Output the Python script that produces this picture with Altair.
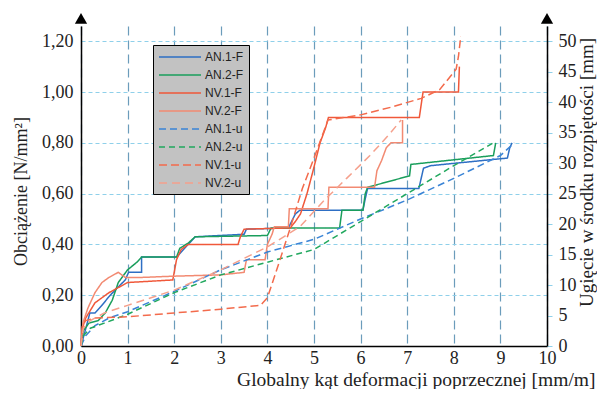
import altair as alt
import pandas as pd

# ---- series names, colours, styles ----
series_names = ["AN.1-F", "AN.2-F", "NV.1-F", "NV.2-F", "AN.1-u", "AN.2-u", "NV.1-u", "NV.2-u"]
series_colors = ["#2e6fc4", "#1a9e5c", "#f0583a", "#f28a72", "#3a84d6", "#21a85e", "#f36b4c", "#f5a08c"]
series_dash = [[1, 0], [1, 0], [1, 0], [1, 0], [7, 4], [6, 4], [8, 4], [8, 5]]
series_width = [1.5, 1.5, 1.8, 2.6, 1.6, 1.6, 2.2, 2.8]

# ---- data (x: mm/m, y: N/mm^2) ----
an1f_x = [0, 0.09, 0.19, 0.3, 0.45, 0.58, 0.73, 0.95, 1.02, 1.3, 1.3, 2.05, 2.2, 2.35, 2.45, 3.5, 3.55, 4.45, 4.6, 4.7, 6.05, 6.1, 6.15, 7.25, 7.35, 7.5, 9.15, 9.2, 9.25]
an1f_y = [0, 0.06, 0.13, 0.13, 0.16, 0.19, 0.22, 0.26, 0.29, 0.29, 0.35, 0.35, 0.38, 0.41, 0.43, 0.44, 0.46, 0.465, 0.52, 0.535, 0.535, 0.58, 0.62, 0.62, 0.70, 0.71, 0.74, 0.78, 0.80]

an2f_x = [0, 0.05, 0.17, 0.37, 0.52, 0.67, 0.8, 1.0, 1.2, 1.3, 2.05, 2.12, 2.3, 2.45, 4.0, 4.08, 5.55, 5.6, 6.05, 6.1, 6.15, 7.05, 7.08, 8.85, 8.9]
an2f_y = [0, 0.06, 0.09, 0.10, 0.13, 0.18, 0.25, 0.30, 0.33, 0.35, 0.35, 0.385, 0.405, 0.43, 0.435, 0.465, 0.465, 0.535, 0.535, 0.60, 0.625, 0.67, 0.715, 0.75, 0.80]

nv1f_x = [0, 0.03, 0.1, 0.3, 0.6, 0.9, 1.0, 1.97, 2.05, 2.15, 2.3, 3.37, 3.42, 3.5, 4.49, 4.6, 4.71, 4.85, 4.98, 5.13, 5.25, 5.31, 7.26, 7.34, 8.1, 8.12]
nv1f_y = [0, 0.07, 0.11, 0.17, 0.21, 0.24, 0.25, 0.26, 0.34, 0.38, 0.40, 0.40, 0.43, 0.46, 0.465, 0.49, 0.52, 0.60, 0.69, 0.80, 0.86, 0.90, 0.90, 1.0, 1.0, 1.1]

nv2f_x = [0, 0.04, 0.15, 0.3, 0.45, 0.6, 0.8, 0.95, 1.3, 2.0, 3.0, 3.5, 3.55, 3.95, 4.0, 4.1, 4.15, 4.45, 4.47, 5.3, 5.32, 6.3, 6.35, 6.45, 6.55, 6.65, 6.9, 6.9]
nv2f_y = [0, 0.09, 0.15, 0.21, 0.25, 0.27, 0.29, 0.27, 0.27, 0.275, 0.28, 0.29, 0.34, 0.34, 0.40, 0.44, 0.47, 0.47, 0.54, 0.54, 0.625, 0.625, 0.69, 0.73, 0.78, 0.80, 0.80, 0.89]

an1u_x = [0, 0.1, 0.3, 0.6, 1, 2, 3, 4, 5, 6, 7, 8, 9, 9.3]
an1u_y = [0, 0.04, 0.08, 0.11, 0.135, 0.215, 0.30, 0.37, 0.42, 0.50, 0.575, 0.66, 0.75, 0.80]

an2u_x = [0, 0.05, 0.2, 0.5, 1, 2, 3, 4, 5, 6, 7, 8, 8.85]
an2u_y = [0, 0.04, 0.07, 0.09, 0.125, 0.21, 0.28, 0.33, 0.38, 0.49, 0.60, 0.71, 0.80]

nv1u_x = [0, 0.03, 0.1, 0.3, 1.0, 2.0, 3.0, 3.85, 4.0, 4.2, 4.5, 4.75, 5.0, 5.3, 6.0, 6.65, 7.3, 7.7, 8.05, 8.1, 8.15]
nv1u_y = [0, 0.08, 0.10, 0.11, 0.115, 0.13, 0.145, 0.16, 0.19, 0.30, 0.47, 0.62, 0.74, 0.89, 0.91, 0.94, 0.975, 1.01, 1.09, 1.14, 1.22]

nv2u_x = [0, 0.05, 0.2, 0.5, 1, 2, 3, 4, 4.7, 5.2, 5.7, 6.2, 6.6, 6.87]
nv2u_y = [0, 0.07, 0.10, 0.13, 0.16, 0.22, 0.30, 0.39, 0.47, 0.57, 0.66, 0.75, 0.83, 0.89]

x_ticks = [0, 1, 2, 3, 4, 5, 6, 7, 8, 9, 10]
load_ticks = [0, 0.2, 0.4, 0.6, 0.8, 1.0, 1.2]
defl_ticks = [0, 5, 10, 15, 20, 25, 30, 35, 40, 45, 50]

all_x = [an1f_x, an2f_x, nv1f_x, nv2f_x, an1u_x, an2u_x, nv1u_x, nv2u_x]
all_y = [an1f_y, an2f_y, nv1f_y, nv2f_y, an1u_y, an2u_y, nv1u_y, nv2u_y]

rows = []
for name, xs, ys in zip(series_names, all_x, all_y):
    for i, (xv, yv) in enumerate(zip(xs, ys)):
        rows.append({"series": name, "x": xv, "y": yv, "i": i})
df = pd.DataFrame(rows)

SERIF = "Liberation Serif"
TXT = "#222222"
X_DOM = [0, 10]
Y_DOM = [0, 1.26]
MM_DOM = [0, 52.5]

leg = alt.Legend(
    title=None, orient="none", legendX=72, legendY=19,
    fillColor="#c2c2c2", strokeColor="#000000", padding=5,
    symbolType="M-3.5,0L3.5,0", symbolSize=144, symbolOffset=15,
    labelOffset=18, labelFont="Liberation Sans", labelFontSize=12,
    labelColor=TXT, rowPadding=5.0,
)

x_enc = alt.X("x:Q", scale=alt.Scale(domain=X_DOM, nice=False, zero=False),
              axis=alt.Axis(values=x_ticks, format="d", grid=True, gridColor="#6b9cbb",
                            gridDash=[9, 5], gridWidth=1.2, domainColor="black", domainWidth=1.5,
                            ticks=False, labelPadding=3, labelFlush=False, labelOverlap=False,
                            labelFont=SERIF, labelFontSize=18, labelColor=TXT,
                            title="Globalny kąt deformacji poprzecznej [mm/m]",
                            titleFont=SERIF, titleFontSize=19.5, titleFontWeight="normal",
                            titleColor=TXT, titleX=514, titleY=39, titleAlign="right",
                            titleBaseline="alphabetic"))

lines = alt.Chart(df).mark_line(strokeCap="butt", strokeJoin="miter").encode(
    x=x_enc,
    y=alt.Y("y:Q", scale=alt.Scale(domain=Y_DOM, nice=False, zero=False),
            axis=alt.Axis(values=load_ticks,
                          labelExpr="replace(format(datum.value, '.2f'), '.', ',')",
                          grid=True, gridColor="#8fd0ea", gridDash=[4, 3], gridWidth=1,
                          domainColor="black", domainWidth=1.5, ticks=False, labelPadding=8,
                          labelFont=SERIF, labelFontSize=18, labelColor=TXT,
                          title="Obciążenie [N/mm²]", titleFont=SERIF, titleFontSize=18,
                          titleFontWeight="normal", titleColor=TXT, titleAngle=270,
                          titleX=-60, titleY=165, titleAlign="center", titleBaseline="middle")),
    color=alt.Color("series:N", scale=alt.Scale(domain=series_names, range=series_colors), legend=leg),
    strokeDash=alt.StrokeDash("series:N", scale=alt.Scale(domain=series_names, range=series_dash), legend=leg),
    strokeWidth=alt.StrokeWidth("series:N", scale=alt.Scale(domain=series_names, range=series_width), legend=leg),
    order=alt.Order("i:Q"),
)

arrow_df = pd.DataFrame({"x": [0, 10], "y": [1.29, 1.29]})
arrows = alt.Chart(arrow_df).mark_point(shape="triangle-up", filled=True, color="black",
                                        size=150, opacity=1).encode(
    x=alt.X("x:Q", scale=alt.Scale(domain=X_DOM, nice=False, zero=False)),
    y=alt.Y("y:Q", scale=alt.Scale(domain=Y_DOM, nice=False, zero=False)),
)

left = alt.layer(lines, arrows)

right_df = pd.DataFrame({"x": [0, 0], "mm": [0, 50]})
right = alt.Chart(right_df).mark_point(opacity=0).encode(
    x=alt.X("x:Q", scale=alt.Scale(domain=X_DOM, nice=False, zero=False)),
    y=alt.Y("mm:Q", scale=alt.Scale(domain=MM_DOM, nice=False, zero=False),
            axis=alt.Axis(orient="right", values=defl_ticks, grid=False, domainColor="black",
                          domainWidth=1.5, ticks=True, tickColor="#8fd0ea", tickSize=5,
                          labelPadding=6, labelFont=SERIF, labelFontSize=18, labelColor=TXT,
                          title="Ugięcie w środku rozpiętości [mm]", titleFont=SERIF,
                          titleFontSize=19, titleFontWeight="normal", titleColor=TXT,
                          titleAngle=270, titleX=39, titleY=146, titleAlign="center",
                          titleBaseline="middle")),
)

chart = alt.layer(left, right).resolve_scale(y="independent").properties(
    width=466, height=320,
    autosize=alt.AutoSizeParams(type="none"),
    padding={"left": 73, "top": 18, "right": 50, "bottom": 43},
    background="white",
).configure_view(stroke=None)

chart.save("out.html", embed_options={"renderer": "svg", "actions": False})
